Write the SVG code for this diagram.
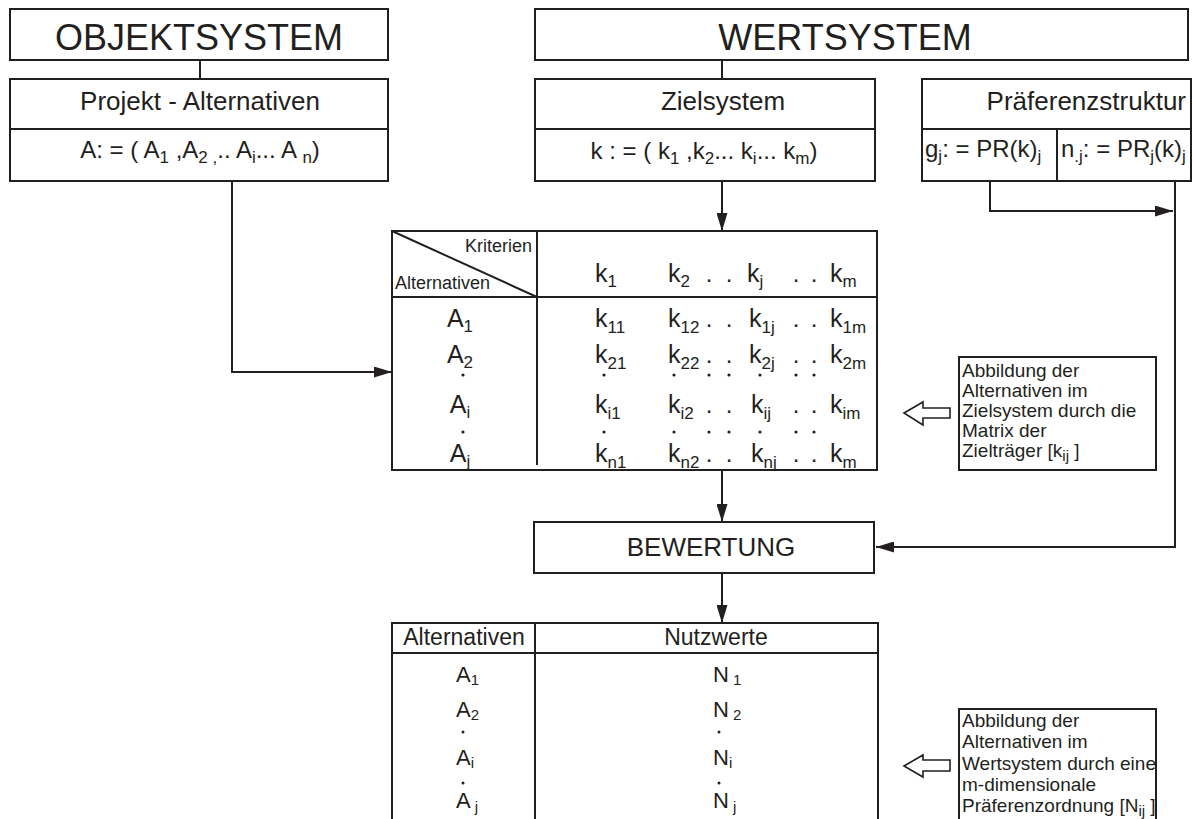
<svg xmlns="http://www.w3.org/2000/svg" width="1194" height="819" viewBox="0 0 1194 819">
<defs>
<style>
text{font-family:"Liberation Sans",Arial,sans-serif;fill:#231f20}
.box{fill:#fff;stroke:#231f20;stroke-width:2}
.ln{fill:none;stroke:#231f20;stroke-width:2}
.dot{fill:#231f20}
.t36{font-size:36px}
.t26{font-size:26px}
.t23{font-size:23px}
.t22{font-size:22px}
.t24{font-size:24px}
.t25{font-size:25px}
.t18{font-size:18px}
.t19{font-size:19px}
.sb{font-size:15px}
.sb2{font-size:17px}
.mid{text-anchor:middle}
.end{text-anchor:end}
.hollow{fill:#fff;stroke:#231f20;stroke-width:1.6}
</style>
<marker id="ah" markerUnits="userSpaceOnUse" markerWidth="18" markerHeight="11" refX="18" refY="5.5" orient="auto"><path d="M0,0 L18,5.5 L0,11 z" fill="#231f20"/></marker>
</defs>
<rect width="1194" height="819" fill="#fff"/>

<g id="connectors" class="ln">
<path d="M200,60 V79"/>
<path d="M722,60 V79"/>
<path d="M232,181 V372 H392" marker-end="url(#ah)"/>
<path d="M722,181 V231" marker-end="url(#ah)"/>
<path d="M990,181 V211 H1173" marker-end="url(#ah)"/>
<path d="M1175,181 V547 H876" marker-end="url(#ah)"/>
<path d="M722,470 V522" marker-end="url(#ah)"/>
<path d="M722,573 V623" marker-end="url(#ah)"/>
</g>

<g id="objektsystem">
<rect class="box" x="10" y="9" width="378" height="51"/>
<text class="t36 mid" x="199" y="50">OBJEKTSYSTEM</text>
</g>

<g id="wertsystem">
<rect class="box" x="535" y="9" width="653" height="51"/>
<text class="t36 mid" x="845" y="50">WERTSYSTEM</text>
</g>

<g id="projekt">
<rect class="box" x="10" y="79" width="378" height="102"/>
<path class="ln" d="M10,129 H388"/>
<text class="t26 mid" x="200" y="110">Projekt - Alternativen</text>
<text class="t24 mid" x="200" y="158">A: = ( A<tspan class="sb2" dy="5">1</tspan><tspan dy="-5"> ,A</tspan><tspan class="sb2" dy="5">2 ,</tspan><tspan dy="-5">.. A</tspan><tspan class="sb2" dy="5">i</tspan><tspan dy="-5">... A </tspan><tspan class="sb2" dy="5">n</tspan><tspan dy="-5">)</tspan></text>
</g>

<g id="zielsystem">
<rect class="box" x="535" y="79" width="340" height="102"/>
<path class="ln" d="M535,129 H875"/>
<text class="t26 mid" x="723" y="110">Zielsystem</text>
<text class="t24 mid" x="704" y="159">k : = ( k<tspan class="sb2" dy="5">1</tspan><tspan dy="-5"> ,k</tspan><tspan class="sb2" dy="5">2</tspan><tspan dy="-5">... k</tspan><tspan class="sb2" dy="5">i</tspan><tspan dy="-5">... k</tspan><tspan class="sb2" dy="5">m</tspan><tspan dy="-5">)</tspan></text>
</g>

<g id="praeferenzstruktur">
<rect class="box" x="922" y="79" width="269" height="102"/>
<path class="ln" d="M922,129 H1191 M1057,129 V181"/>
<text class="t26 end" x="1186" y="110">Präferenzstruktur</text>
<text class="t24" x="925" y="157">g<tspan class="sb2" dy="5">j</tspan><tspan dy="-5">: = PR(k)</tspan><tspan class="sb2" dy="5">j</tspan></text>
<text class="t24" x="1061" y="157">n<tspan class="sb2" dy="5">.j</tspan><tspan dy="-5">: = PR</tspan><tspan class="sb2" dy="5">j</tspan><tspan dy="-5">(k)</tspan><tspan class="sb2" dy="5">j</tspan></text>
</g>

<g id="matrix">
<rect class="box" x="392" y="231" width="485" height="239"/>
<path class="ln" d="M392,297 H877 M537,231 V465 M392,231 L537,297"/>
<text class="t18 end" x="532" y="252">Kriterien</text>
<text class="t18" x="395" y="289">Alternativen</text>
<g class="t25">
<text x="595" y="282">k<tspan class="sb2" dy="5">1</tspan></text>
<text x="668" y="282">k<tspan class="sb2" dy="5">2</tspan></text>
<text x="747" y="282">k<tspan class="sb2" dy="5">j</tspan></text>
<text x="830" y="282">k<tspan class="sb2" dy="5">m</tspan></text>

<text class="mid" x="460" y="327">A<tspan class="sb2" dy="5">1</tspan></text>
<text x="595" y="327">k<tspan class="sb2" dy="6">11</tspan></text>
<text x="668" y="327">k<tspan class="sb2" dy="6">12</tspan></text>
<text x="749" y="327">k<tspan class="sb2" dy="6">1j</tspan></text>
<text x="830" y="327">k<tspan class="sb2" dy="6">1m</tspan></text>

<text class="mid" x="460" y="363">A<tspan class="sb2" dy="5">2</tspan></text>
<text x="595" y="363">k<tspan class="sb2" dy="6">21</tspan></text>
<text x="668" y="363">k<tspan class="sb2" dy="6">22</tspan></text>
<text x="749" y="363">k<tspan class="sb2" dy="6">2j</tspan></text>
<text x="830" y="363">k<tspan class="sb2" dy="6">2m</tspan></text>

<text class="mid" x="460" y="413">A<tspan class="sb2" dy="5">i</tspan></text>
<text x="595" y="413">k<tspan class="sb2" dy="6">i1</tspan></text>
<text x="668" y="413">k<tspan class="sb2" dy="6">i2</tspan></text>
<text x="751" y="413">k<tspan class="sb2" dy="6">ij</tspan></text>
<text x="830" y="413">k<tspan class="sb2" dy="6">im</tspan></text>

<text class="mid" x="460" y="462">A<tspan class="sb2" dy="5">j</tspan></text>
<text x="595" y="462">k<tspan class="sb2" dy="6">n1</tspan></text>
<text x="668" y="462">k<tspan class="sb2" dy="6">n2</tspan></text>
<text x="751" y="462">k<tspan class="sb2" dy="6">nj</tspan></text>
<text x="830" y="462">k<tspan class="sb2" dy="6">m</tspan></text>
</g>
<g class="t24 mid">
<text x="709" y="282">.</text><text x="729" y="282">.</text><text x="796" y="282">.</text><text x="814" y="282">.</text>
<text x="709" y="327">.</text><text x="729" y="327">.</text><text x="796" y="327">.</text><text x="814" y="327">.</text>
<text x="709" y="363">.</text><text x="729" y="363">.</text><text x="796" y="363">.</text><text x="814" y="363">.</text>
<text x="709" y="413">.</text><text x="729" y="413">.</text><text x="796" y="413">.</text><text x="814" y="413">.</text>
<text x="709" y="462">.</text><text x="729" y="462">.</text><text x="796" y="462">.</text><text x="814" y="462">.</text>
</g>
<g class="dot">
<circle cx="463" cy="375" r="1.6"/><circle cx="604" cy="375" r="1.6"/><circle cx="674" cy="375" r="1.6"/><circle cx="709" cy="375" r="1.6"/><circle cx="729" cy="375" r="1.6"/><circle cx="760" cy="375" r="1.6"/><circle cx="796" cy="375" r="1.6"/><circle cx="814" cy="375" r="1.6"/>
<circle cx="463" cy="432" r="1.6"/><circle cx="604" cy="432" r="1.6"/><circle cx="674" cy="432" r="1.6"/><circle cx="709" cy="432" r="1.6"/><circle cx="729" cy="432" r="1.6"/><circle cx="760" cy="432" r="1.6"/><circle cx="796" cy="432" r="1.6"/><circle cx="814" cy="432" r="1.6"/>
</g>
</g>

<g id="note1">
<polygon class="hollow" points="904,413 923,402 923,408 950,408 950,418 923,418 923,425"/>
<rect class="box" x="959" y="357" width="197" height="113"/>
<g class="t19">
<text x="962" y="377">Abbildung der</text>
<text x="962" y="397">Alternativen im</text>
<text x="962" y="417">Zielsystem durch die</text>
<text x="962" y="437">Matrix der</text>
<text x="962" y="457">Zielträger [k<tspan class="sb" dy="4">ij</tspan><tspan dy="-4"> ]</tspan></text>
</g>
</g>

<g id="bewertung">
<rect class="box" x="534" y="522" width="340" height="51"/>
<text class="t26 mid" x="711" y="556">BEWERTUNG</text>
</g>

<g id="ergebnis">
<path class="box" d="M392,830 V623 H878 V830"/>
<path class="ln" d="M392,653 H878 M535,623 V830"/>
<text class="t23 mid" x="464" y="645">Alternativen</text>
<text class="t23 mid" x="716" y="645">Nutzwerte</text>
<g class="t22">
<text x="456" y="682">A<tspan class="sb" dy="3">1</tspan></text>
<text x="456" y="717">A<tspan class="sb" dy="3">2</tspan></text>
<text x="456" y="765">A<tspan class="sb" dy="3">i</tspan></text>
<text x="456" y="808">A<tspan class="sb" dy="4"> j</tspan></text>
<text x="713" y="682">N<tspan class="sb" dy="3"> 1</tspan></text>
<text x="713" y="717">N<tspan class="sb" dy="3"> 2</tspan></text>
<text x="713" y="765">N<tspan class="sb" dy="3">i</tspan></text>
<text x="713" y="808">N<tspan class="sb" dy="4"> j</tspan></text>
</g>
<g class="dot">
<circle cx="463" cy="732" r="1.5"/><circle cx="719" cy="732" r="1.5"/>
<circle cx="463" cy="783" r="1.5"/><circle cx="719" cy="783" r="1.5"/>
</g>
</g>

<g id="note2">
<polygon class="hollow" points="904,766 923,755 923,760 950,760 950,771 923,771 923,777"/>
<path class="box" d="M959,830 V709 H1156 V830"/>
<g class="t19">
<text x="962" y="727">Abbildung der</text>
<text x="962" y="748">Alternativen im</text>
<text x="962" y="770">Wertsystem durch eine</text>
<text x="962" y="791">m-dimensionale</text>
<text x="962" y="812">Präferenzordnung [N<tspan class="sb" dy="4">ij</tspan><tspan dy="-4"> ]</tspan></text>
</g>
</g>
</svg>
